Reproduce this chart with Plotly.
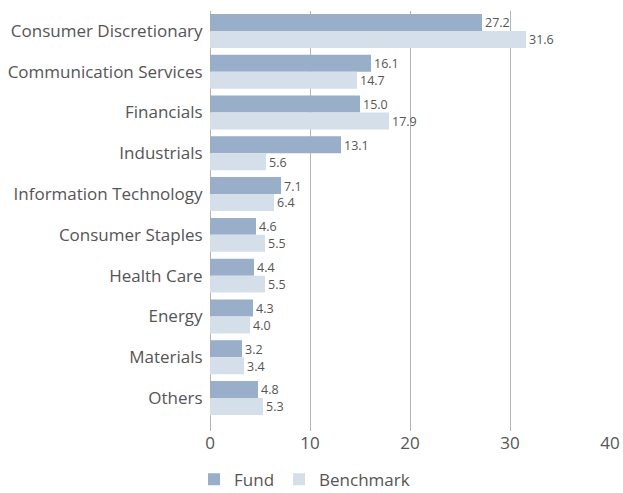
import plotly.graph_objects as go

categories = ["Consumer Discretionary", "Communication Services", "Financials", "Industrials",
              "Information Technology", "Consumer Staples", "Health Care", "Energy",
              "Materials", "Others"]
fund = [27.2, 16.1, 15.0, 13.1, 7.1, 4.6, 4.4, 4.3, 3.2, 4.8]
benchmark = [31.6, 14.7, 17.9, 5.6, 6.4, 5.5, 5.5, 4.0, 3.4, 5.3]
x_ticks = [0, 10, 20, 30, 40]

FONT = "Open Sans"
TXT = "#555555"

fig = go.Figure()
fig.add_trace(go.Bar(
    y=categories, x=fund, name="Fund", orientation="h",
    marker=dict(color="#98aec9", line=dict(width=0)),
    text=[f"{v:.1f}" for v in fund], textposition="outside",
    textfont=dict(family=FONT, size=14, color=TXT), cliponaxis=False,
))
fig.add_trace(go.Bar(
    y=categories, x=benchmark, name="Benchmark", orientation="h",
    marker=dict(color="#d5dfe9", line=dict(width=0)),
    text=[f"{v:.1f}" for v in benchmark], textposition="outside",
    textfont=dict(family=FONT, size=14, color=TXT), cliponaxis=False,
))

fig.update_layout(
    width=623, height=493,
    margin=dict(l=210, r=13, t=11, b=62, autoexpand=False),
    barmode="group", bargap=0.167, bargroupgap=0,
    plot_bgcolor="white", paper_bgcolor="white",
    font=dict(family=FONT, color=TXT, size=17),
    legend=dict(orientation="h", x=-0.04, xanchor="left", y=-0.073, yanchor="top",
                font=dict(family=FONT, size=17, color=TXT),
                itemwidth=30, traceorder="normal"),
    xaxis=dict(range=[0, 40], tickvals=x_ticks, showgrid=True, gridcolor="#b5b5b5",
               gridwidth=1, zeroline=True, zerolinecolor="#b5b5b5", zerolinewidth=1,
               showline=False, ticks="", automargin=False,
               tickfont=dict(family=FONT, size=17, color=TXT)),
    yaxis=dict(categoryorder="array", categoryarray=categories,
               range=[9.81, -0.49], showgrid=False, zeroline=False, showline=False,
               ticks="outside", ticklen=3, tickcolor="white", automargin=False,
               tickfont=dict(family=FONT, size=17, color=TXT)),
)

fig.write_html("out.html", config={"displayModeBar": False},
               post_script="document.body.style.margin='0';document.body.style.overflow='hidden';")
